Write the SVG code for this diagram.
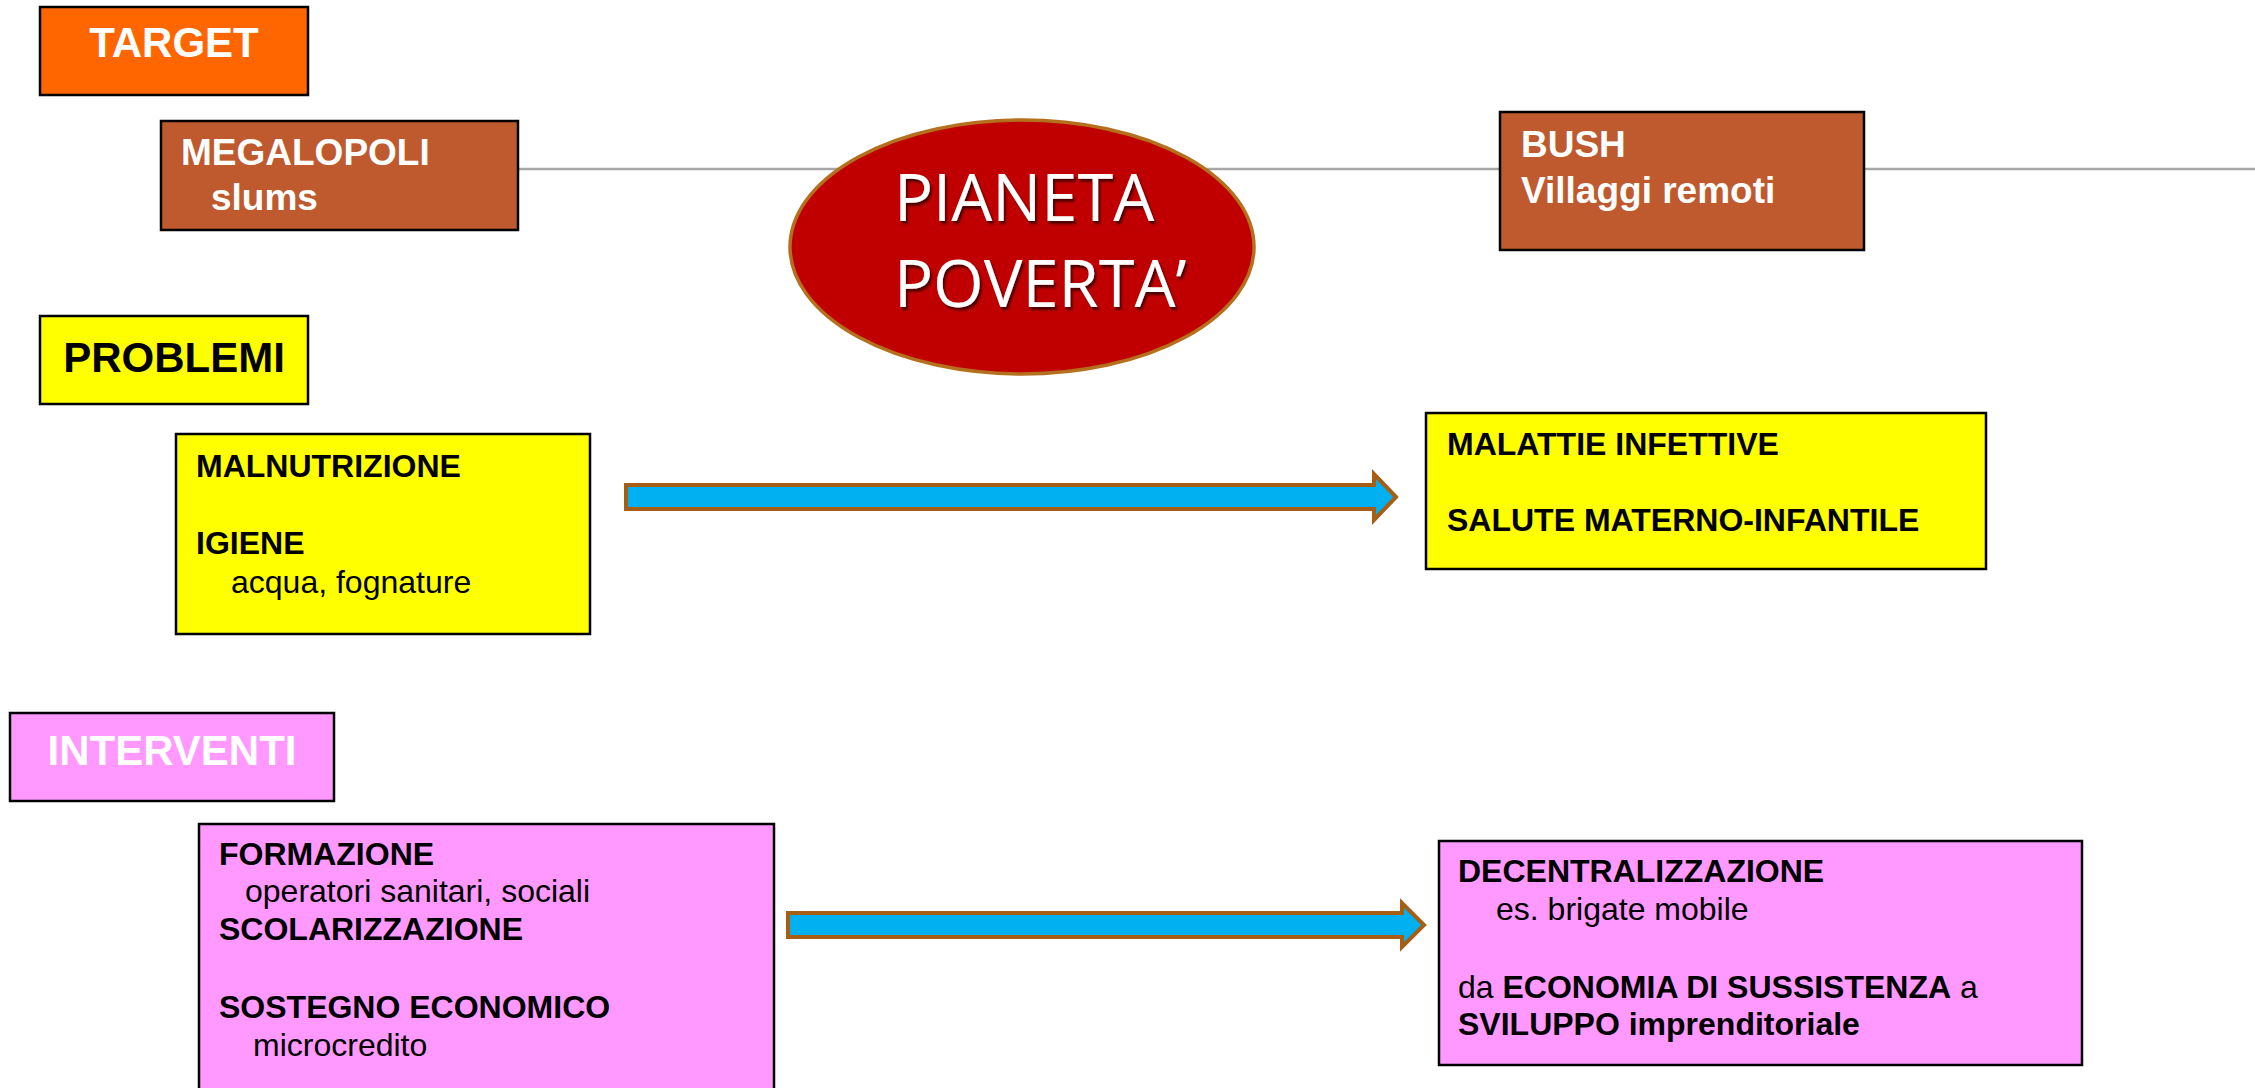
<svg xmlns="http://www.w3.org/2000/svg" width="2255" height="1088" viewBox="0 0 2255 1088">
<style>
.box{stroke:#000;stroke-width:2.5}
.t{font-family:"Liberation Sans",Arial,sans-serif}
.b{font-weight:bold}
.w{fill:#fff}
.k{fill:#000}
.h{font-size:42px}
.m{font-size:37px}
.s{font-size:32px}
.arrow{fill:#00B0F0;stroke:#A65E14;stroke-width:4;stroke-linejoin:miter}
.conn{stroke:#A6A6A6;stroke-width:2.5;fill:none}
</style>
<defs>
<filter id="shadow" x="-10%" y="-10%" width="130%" height="130%">
<feDropShadow dx="2" dy="3" stdDeviation="1" flood-color="#000" flood-opacity="0.6"/>
</filter>
</defs>
<rect width="2255" height="1088" fill="#fff"/>
<g id="connectors">
<line class="conn" x1="518" y1="169" x2="2255" y2="169"/>
<path class="arrow" d="M626,485 L1374,485 L1374,474 L1396,497 L1374,520 L1374,509 L626,509 Z"/>
<path class="arrow" d="M788,913 L1402,913 L1402,903 L1424,925 L1402,947 L1402,937 L788,937 Z"/>
</g>
<g id="target">
<rect class="box" x="40" y="7" width="268" height="88" fill="#FF6600"/>
<text class="t b w h" x="174" y="57" text-anchor="middle">TARGET</text>
</g>
<g id="megalopoli">
<rect class="box" x="161" y="121" width="357" height="109" fill="#BE5A2E"/>
<text class="t b w m" x="181" y="165">MEGALOPOLI</text>
<text class="t b w m" x="211" y="210">slums</text>
</g>
<g id="pianeta">
<ellipse cx="1022" cy="247" rx="232" ry="127" fill="#C00000" stroke="#B5701E" stroke-width="3.5"/>
<text font-family="'Open Sans','Noto Sans',sans-serif" font-size="65" fill="#fff" filter="url(#shadow)" x="894" y="221">PIANETA</text>
<text font-family="'Open Sans','Noto Sans',sans-serif" font-size="65" fill="#fff" filter="url(#shadow)" x="894" y="307">POVERTA’</text>
</g>
<g id="bush">
<rect class="box" x="1500" y="112" width="364" height="138" fill="#BE5A2E"/>
<text class="t b w m" x="1521" y="157">BUSH</text>
<text class="t b w m" x="1521" y="203">Villaggi remoti</text>
</g>
<g id="problemi">
<rect class="box" x="40" y="316" width="268" height="88" fill="#FFFF00"/>
<text class="t b k h" x="174" y="372" text-anchor="middle">PROBLEMI</text>
</g>
<g id="malnutrizione">
<rect class="box" x="176" y="434" width="414" height="200" fill="#FFFF00"/>
<text class="t b k s" x="196" y="477">MALNUTRIZIONE</text>
<text class="t b k s" x="196" y="554">IGIENE</text>
<text class="t k s" x="231" y="593">acqua, fognature</text>
</g>
<g id="malattie">
<rect class="box" x="1426" y="413" width="560" height="156" fill="#FFFF00"/>
<text class="t b k s" x="1447" y="455">MALATTIE INFETTIVE</text>
<text class="t b k s" x="1447" y="531">SALUTE MATERNO-INFANTILE</text>
</g>
<g id="interventi">
<rect class="box" x="10" y="713" width="324" height="88" fill="#FF99FF"/>
<text class="t b w h" x="172" y="765" text-anchor="middle">INTERVENTI</text>
</g>
<g id="formazione">
<rect class="box" x="199" y="824" width="575" height="275" fill="#FF99FF"/>
<text class="t b k s" x="219" y="865">FORMAZIONE</text>
<text class="t k s" x="245" y="902">operatori sanitari, sociali</text>
<text class="t b k s" x="219" y="940">SCOLARIZZAZIONE</text>
<text class="t b k s" x="219" y="1018">SOSTEGNO ECONOMICO</text>
<text class="t k s" x="253" y="1056">microcredito</text>
</g>
<g id="decentralizzazione">
<rect class="box" x="1439" y="841" width="643" height="224" fill="#FF99FF"/>
<text class="t b k s" x="1458" y="882">DECENTRALIZZAZIONE</text>
<text class="t k s" x="1496" y="920">es. brigate mobile</text>
<text class="t k s" x="1458" y="998">da <tspan class="b">ECONOMIA DI SUSSISTENZA</tspan> a</text>
<text class="t b k s" x="1458" y="1035">SVILUPPO imprenditoriale</text>
</g>
</svg>
